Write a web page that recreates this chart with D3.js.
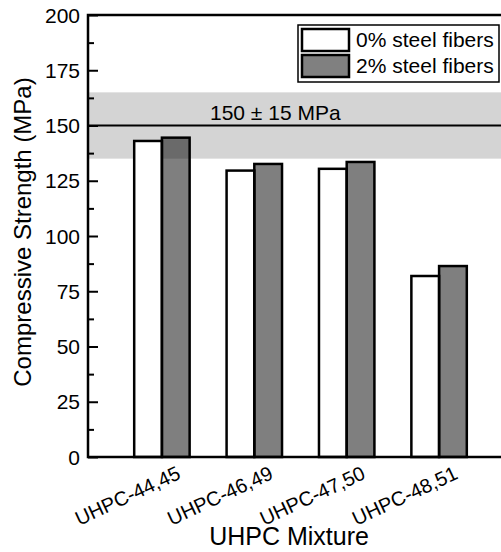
<!DOCTYPE html>
<html><head><meta charset="utf-8">
<script src="https://cdn.jsdelivr.net/npm/d3@7"></script>
<style>body{margin:0;background:#fff}svg{display:block;font-family:"Liberation Sans",Arial,sans-serif}</style>
</head><body>
<svg id="c" width="501" height="552"></svg>
<script>
const categories = ["UHPC-44,45","UHPC-46,49","UHPC-47,50","UHPC-48,51"];
const fiber0 = [143, 129.6, 130.4, 81.9];
const fiber2 = [144.5, 132.6, 133.5, 86.4];
const seriesNames = ["0% steel fibers","2% steel fibers"];
const yTicks = [0,25,50,75,100,125,150,175,200];
const target = 150, tol = 15;

const svg = d3.select("#c");
const L = 88, R = 513, T = 15, B = 457;
const y = d3.scaleLinear().domain([0,200]).range([B,T]);
const x = d3.scalePoint().domain(categories).range([L,R]).padding(0.8);
const bw = x.step()*0.3;

// band
svg.append("rect").attr("x",L).attr("width",R-L)
  .attr("y",y(target+tol)).attr("height",y(target-tol)-y(target+tol)).attr("fill","#d4d4d4");

// bars
const g = svg.append("g");
categories.forEach((c,i)=>{
  g.append("rect").attr("x",x(c)-bw).attr("width",bw).attr("y",y(fiber0[i])).attr("height",y(0)-y(fiber0[i]))
   .attr("fill","#fff").attr("stroke","#000").attr("stroke-width",2.5);
  g.append("rect").attr("x",x(c)).attr("width",bw).attr("y",y(fiber2[i])).attr("height",y(0)-y(fiber2[i]))
   .attr("fill","rgba(0,0,0,0.5)").attr("stroke","#000").attr("stroke-width",2.5);
});

// target line
svg.append("line").attr("x1",L).attr("x2",R).attr("y1",y(target)).attr("y2",y(target)).attr("stroke","#000").attr("stroke-width",2);
svg.append("text").attr("x",210).attr("y",y(target)-6).attr("font-size",21).text("150 ± 15 MPa");

// frame
svg.append("rect").attr("x",L).attr("y",T).attr("width",R-L).attr("height",B-T).attr("fill","none").attr("stroke","#000").attr("stroke-width",2.5);

// y axis ticks inward
const yAxis = d3.axisRight(y).tickValues(yTicks).tickSize(10).tickFormat("");
const ya = svg.append("g").attr("transform",`translate(${L},0)`).call(yAxis);
ya.select(".domain").remove();
ya.selectAll("line").attr("stroke-width",2);
const minor = d3.range(12.5,200,25);
const ym = svg.append("g").attr("transform",`translate(${L},0)`).call(d3.axisRight(y).tickValues(minor).tickSize(6).tickFormat(""));
ym.select(".domain").remove();
ym.selectAll("line").attr("stroke-width",2);

svg.append("g").selectAll("text").data(yTicks).join("text")
  .attr("x",80).attr("y",d=>y(d)).attr("dy","0.36em").attr("text-anchor","end").attr("font-size",21).text(d=>d);

// x labels
svg.append("g").selectAll("text").data(categories).join("text")
  .attr("text-anchor","end").attr("font-size",20)
  .attr("transform",d=>`translate(${x(d)+20},478) rotate(-25)`).text(d=>d);

// titles
svg.append("text").attr("x",289).attr("y",545).attr("text-anchor","middle").attr("font-size",25).text("UHPC Mixture");
svg.append("text").attr("transform","translate(31,232) rotate(-90)").attr("text-anchor","middle").attr("font-size",24).text("Compressive Strength (MPa)");

// legend
const lg = svg.append("g");
lg.append("rect").attr("x",298).attr("y",25).attr("width",201).attr("height",57).attr("fill","#fff").attr("stroke","#000").attr("stroke-width",1.5);
const fills = ["#fff","#808080"];
seriesNames.forEach((s,i)=>{
  lg.append("rect").attr("x",302).attr("y",29+i*26).attr("width",47).attr("height",22).attr("fill",fills[i]).attr("stroke","#000").attr("stroke-width",2.5);
  lg.append("text").attr("x",356).attr("y",47+i*26).attr("font-size",21).text(s);
});
</script>
</body></html>
